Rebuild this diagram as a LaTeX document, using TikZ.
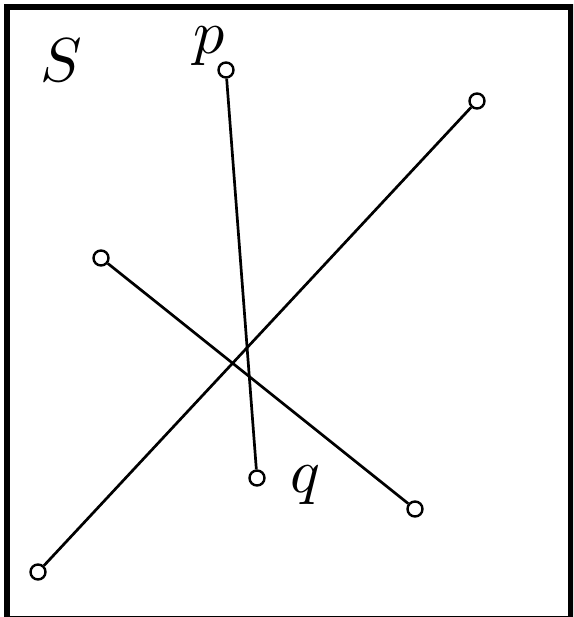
\documentclass[tikz,border=0pt]{standalone}

\begin{document}
\begin{tikzpicture}[x=1pt, y=-1pt]
  \tikzset{
    frame/.style={draw=black, line width=6pt},
    seg/.style={draw=black, line width=2.7pt},
    pt/.style={circle, draw=black, fill=white, line width=2.4pt, inner sep=0pt, minimum size=15pt},
    lbl/.style={inner sep=0pt, scale=6.2}
  }

  % canvas and frame
  \useasboundingbox (0,0) rectangle (573,617);
  \clip (0,0) rectangle (573,617);
  \draw[frame] (7,7.5) rectangle (571,618.5);

  % labels
  \node[lbl] (lS) at (61,60) {$S$};
  \node[lbl] (lp) at (209,46) {$p$};
  \node[lbl] (lq) at (305,485) {$q$};

  % endpoints
  \node[pt] (p) at (226,70) {};
  \node[pt] (q) at (257,478) {};
  \node[pt] (a1) at (38,572) {};
  \node[pt] (a2) at (477,101) {};
  \node[pt] (b1) at (101,258) {};
  \node[pt] (b2) at (415,509) {};

  % segments
  \draw[seg] (p) -- (q);
  \draw[seg] (a1) -- (a2);
  \draw[seg] (b1) -- (b2);

\end{tikzpicture}
\end{document}
